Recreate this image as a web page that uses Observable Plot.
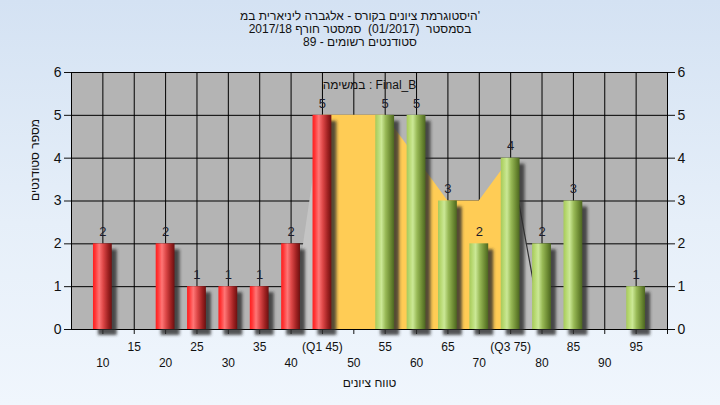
<!DOCTYPE html>
<html>
<head>
<meta charset="utf-8">
<script src="https://cdn.jsdelivr.net/npm/d3@7"></script>
<script src="https://cdn.jsdelivr.net/npm/@observablehq/plot@0.6"></script>
<style>
  html, body { margin: 0; padding: 0; }
  body {
    width: 720px; height: 405px; overflow: hidden;
    background: linear-gradient(to bottom, #d4e2f3 0%, #e6eff9 55%, #f0f6fd 100%);
    font-family: "Liberation Sans", Arial, sans-serif;
  }
  #title {
    height: 50px; box-sizing: border-box; padding-top: 10px;
    text-align: center; font-size: 12px; line-height: 13px; color: #111;
  }
  svg { display: block; background: transparent; }
</style>
</head>
<body>
<div id="title">
  <div>היסטוגרמת ציונים בקורס - אלגברה ליניארית במ'</div>
  <div>בסמסטר&nbsp; (01/2017)&nbsp; סמסטר חורף 2017/18</div>
  <div>סטודנטים רשומים - 89</div>
</div>
<div id="chart"></div>
<script>
// ---- data ----
const grades = [10, 15, 20, 25, 30, 35, 40, 45, 50, 55, 60, 65, 70, 75, 80, 85, 90, 95];
const counts = [2, 0, 2, 1, 1, 1, 2, 5, 0, 5, 5, 3, 2, 4, 2, 3, 0, 1];
const q1 = 45;
const q3 = 75;
const tickLabels = ["10", "15", "20", "25", "30", "35", "40", "(Q1 45)", "50", "55", "60", "65", "70", "(Q3 75)", "80", "85", "90", "95"];
// distribution area drawn behind the bars
const areaGrades = [40, 45, 55, 65, 70, 75, 80];
const areaCounts = [0, 5, 5, 3, 3, 4, 0];
const seriesName = "במשימה : Final_B";
const xTitle = "טווח ציונים";
const yTitle = "מספר סטודנטים";

// ---- derived tables ----
const bars = grades.map((g, i) => ({g, c: counts[i], low: g <= q1})).filter(d => d.c > 0);
const area = areaGrades.map((g, i) => ({g, c: areaCounts[i]}));
const areaMid = area.filter(d => d.g >= q1 && d.g <= q3);
const areaLeft = area.filter(d => d.g <= q1);
const areaRight = area.filter(d => d.g >= q3);
const labels = grades.map((g, i) => ({g, t: tickLabels[i], row: (g / 5) % 2 === 0 ? 1 : 0}));
const half = 1.5;

const svg = Plot.plot({
  width: 720,
  height: 355,
  marginLeft: 71,
  marginRight: 53,
  marginTop: 22,
  marginBottom: 76,
  style: {fontFamily: "'Liberation Sans', Arial, sans-serif", fontSize: "14px", color: "#111", background: "transparent", overflow: "visible"},
  x: {domain: [5, 100], ticks: d3.range(10, 101, 5), tickSize: 5, tickFormat: () => "", label: null},
  y: {domain: [0, 6], ticks: 7, axis: "both", tickSize: 7, tickPadding: 3, label: null},
  marks: [
    Plot.frame({fill: "#b4b4b4"}),
    Plot.ruleY(d3.range(0, 7), {stroke: "#000", strokeWidth: 1}),
    Plot.ruleX(d3.range(10, 101, 5), {stroke: "#000", strokeWidth: 1}),
    Plot.areaY(areaLeft, {x: "g", y: "c", fill: "#c4c4c4"}),
    Plot.areaY(areaRight, {x: "g", y: "c", fill: "#bdbdbd"}),
    Plot.lineY(areaRight, {x: "g", y: "c", stroke: "#333", strokeWidth: 1.2}),
    Plot.areaY(areaMid, {x: "g", y: "c", fill: "#ffcc55"}),
    Plot.frame({stroke: "#000"}),
    // shadows
    Plot.rect(bars, {x1: d => d.g - half, x2: d => d.g + half, y1: 0, y2: "c", dx: 5, dy: 6, fill: "#2a2a2b", fillOpacity: 0.8}),
    // bars
    Plot.rect(bars.filter(d => d.low), {x1: d => d.g - half, x2: d => d.g + half, y1: 0, y2: "c", fill: "url(#gRed)"}),
    Plot.rect(bars.filter(d => !d.low), {x1: d => d.g - half, x2: d => d.g + half, y1: 0, y2: "c", fill: "url(#gGreen)"}),
    // value labels
    Plot.text(bars, {x: "g", y: "c", text: d => String(d.c), dy: -12, fontSize: 13, fill: "#1c1c2c"}),
    // x tick labels, two rows
    Plot.text(labels.filter(d => d.row === 0), {x: "g", text: "t", frameAnchor: "bottom", dy: 21, fontSize: 12, fill: "#111"}),
    Plot.text(labels.filter(d => d.row === 1), {x: "g", text: "t", frameAnchor: "bottom", dy: 37, fontSize: 12, fill: "#111"}),
    // titles
    Plot.text([xTitle], {text: d => d, frameAnchor: "bottom", dy: 57, fontSize: 12, fill: "#111"}),
    Plot.text([yTitle], {text: d => d, frameAnchor: "left", dx: -36, rotate: -90, fontSize: 12, fill: "#111"}),
    Plot.text([seriesName], {text: d => d, frameAnchor: "top", dy: 8, fontSize: 12, fill: "#111"})
  ]
});

const s = d3.select(svg);
const defs = s.insert("defs", ":first-child");
function grad(id, stops) {
  const g = defs.append("linearGradient").attr("id", id).attr("x1", "0").attr("x2", "1").attr("y1", "0").attr("y2", "0");
  stops.forEach(([o, c]) => g.append("stop").attr("offset", o).attr("stop-color", c));
}
grad("gRed", [["0%", "#ff1f1f"], ["12%", "#ff3535"], ["33%", "#ff7676"], ["55%", "#dc4646"], ["80%", "#a02222"], ["100%", "#6c1010"]]);
grad("gGreen", [["0%", "#a6c95c"], ["12%", "#b4d66c"], ["33%", "#cbe896"], ["55%", "#98b956"], ["80%", "#6e8c34"], ["100%", "#4c6620"]]);
const f = defs.append("filter").attr("id", "blur").attr("x", "-50%").attr("y", "-10%").attr("width", "200%").attr("height", "120%");
f.append("feGaussianBlur").attr("stdDeviation", 1.8);
s.selectAll('g[fill="#2a2a2b"]').attr("filter", "url(#blur)");

document.getElementById("chart").appendChild(svg);
</script>
</body>
</html>
